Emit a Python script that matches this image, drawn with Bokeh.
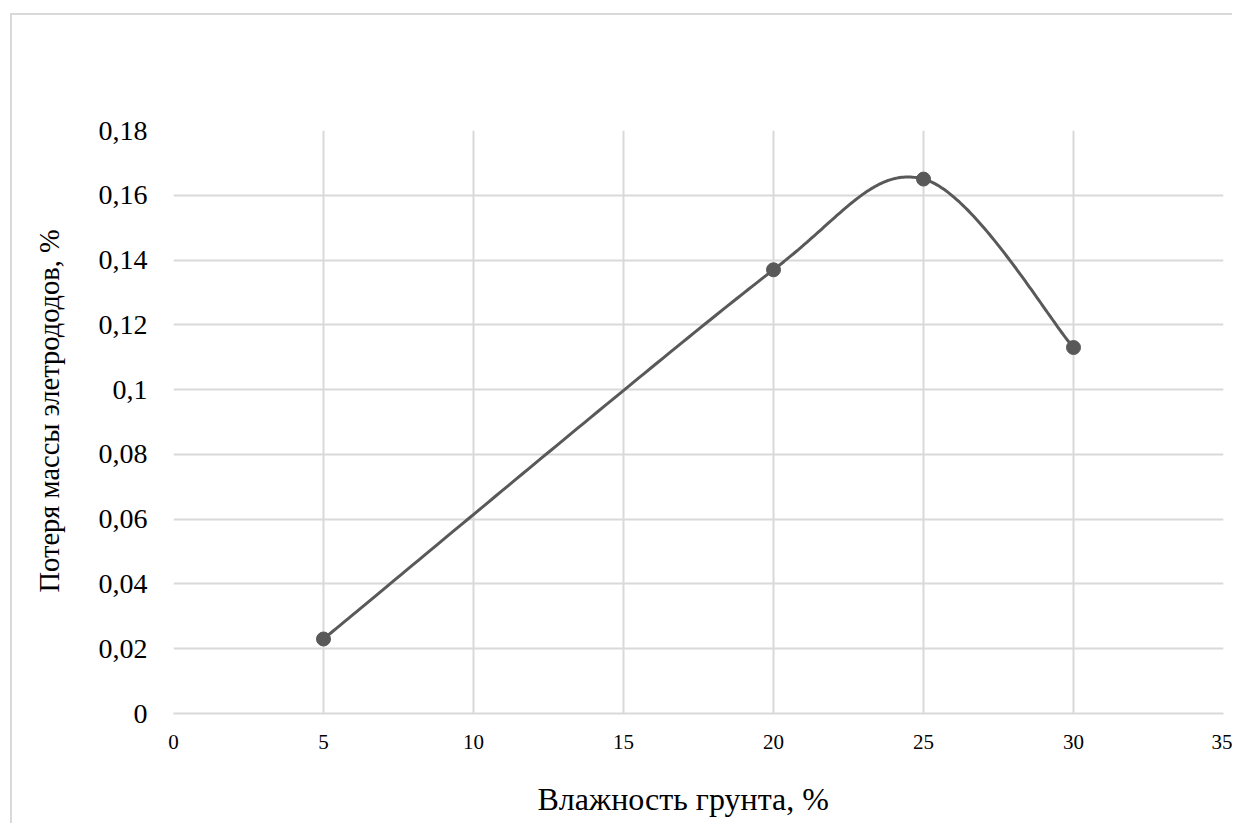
import numpy as np
from bokeh.plotting import figure
from bokeh.models import FixedTicker, CustomJSTickFormatter, Title
from bokeh.embed import file_html
from bokeh.resources import INLINE

# Data
moisture = [5, 20, 25, 30]                # Влажность грунта, %
mass_loss = [0.023, 0.137, 0.165, 0.113]  # Потеря массы элетрододов, %
x_ticks = [0, 5, 10, 15, 20, 25, 30, 35]
y_ticks = [0, 0.02, 0.04, 0.06, 0.08, 0.1, 0.12, 0.14, 0.16, 0.18]
x_title = "Влажность грунта, %"
y_title = "Потеря массы элетрододов, %"

LINE = "#595959"
GRID = "#d9d9d9"
FONT = "Liberation Serif"

X0, X1 = 0, 35
Y0, Y1 = 0, 0.18
FW, FH = 1050, 583


def smooth(xs, ys, kx, ky, n=80):
    """Excel-like smoothed line (Bezier, control arms capped at half segment)."""
    P = np.column_stack([np.asarray(xs, float) * kx, np.asarray(ys, float) * ky])
    m = len(P)
    out = []
    for i in range(m - 1):
        p0 = P[i - 1] if i > 0 else P[i]
        p1 = P[i]
        p2 = P[i + 1]
        p3 = P[i + 2] if i + 2 < m else P[i + 1]
        d12 = np.linalg.norm(p2 - p1)
        d02 = np.linalg.norm(p2 - p0)
        d13 = np.linalg.norm(p3 - p1)
        f1 = 1 / 6.0
        f2 = 1 / 6.0
        if d02 / 6.0 >= d12 / 2.0 and d02 > 0:
            f1 = d12 / 2.0 / d02
        if d13 / 6.0 >= d12 / 2.0 and d13 > 0:
            f2 = d12 / 2.0 / d13
        c1 = p1 + f1 * (p2 - p0)
        c2 = p2 - f2 * (p3 - p1)
        t = np.linspace(0, 1, n)[:, None]
        seg = ((1 - t) ** 3) * p1 + 3 * ((1 - t) ** 2) * t * c1 + 3 * (1 - t) * t ** 2 * c2 + t ** 3 * p2
        if i > 0:
            seg = seg[1:]
        out.append(seg)
    S = np.vstack(out)
    return S[:, 0] / kx, S[:, 1] / ky


p = figure(frame_width=FW, frame_height=FH, output_backend="svg", toolbar_location=None,
           x_range=(X0, X1), y_range=(Y0, Y1),
           min_border_left=161, min_border_top=115, min_border_right=9, min_border_bottom=110)
p.margin = (13, 0, 0, 10)
p.styles = {"border-top": "2px solid #d9d9d9", "border-left": "2px solid #d9d9d9"}
p.outline_line_color = None
p.background_fill_color = "white"
p.border_fill_color = "white"

kx = FW / (X1 - X0)
ky = FH / (Y1 - Y0)
sx, sy = smooth(moisture, mass_loss, kx, ky)
p.line(sx, sy, line_color=LINE, line_width=3)
p.scatter(moisture, mass_loss, size=14, fill_color=LINE, line_color=LINE)

p.xaxis.ticker = FixedTicker(ticks=x_ticks)
p.yaxis.ticker = FixedTicker(ticks=y_ticks)
p.yaxis.formatter = CustomJSTickFormatter(code="return String(+tick.toFixed(2)).replace('.', ',');")

for ax in (p.xaxis[0], p.yaxis[0]):
    ax.major_tick_line_color = None
    ax.minor_tick_line_color = None
    ax.major_tick_out = 0
    ax.major_tick_in = 0
    ax.minor_tick_out = 0
    ax.minor_tick_in = 0
    ax.major_label_text_font = FONT
    ax.major_label_text_color = "black"

p.xaxis.axis_line_color = GRID
p.xaxis.axis_line_width = 2
p.yaxis.axis_line_color = None
p.xaxis.major_label_text_font_size = "21px"
p.yaxis.major_label_text_font_size = "28px"
p.xaxis.major_label_standoff = 21
p.yaxis.major_label_standoff = 26


def gap(size):
    """Blank title used only to reserve space between tick labels and axis titles."""
    return Title(text=" ", standoff=size, text_font_size="1px", text_color="white")


p.add_layout(gap(25), "below")
p.add_layout(Title(text=x_title, align="left", offset=364, vertical_align="middle", standoff=0,
                   text_font=FONT, text_font_size="32px", text_font_style="normal",
                   text_color="black"), "below")
p.add_layout(gap(27), "left")
p.add_layout(Title(text=y_title, align="left", offset=121, vertical_align="middle", standoff=0,
                   text_font=FONT, text_font_size="28.5px", text_font_style="normal",
                   text_color="black"), "left")

p.xgrid.ticker = FixedTicker(ticks=x_ticks)
p.ygrid.ticker = FixedTicker(ticks=y_ticks)
p.grid.grid_line_color = GRID
p.grid.grid_line_width = 2

open("out.html", "w").write(file_html(p, INLINE))
